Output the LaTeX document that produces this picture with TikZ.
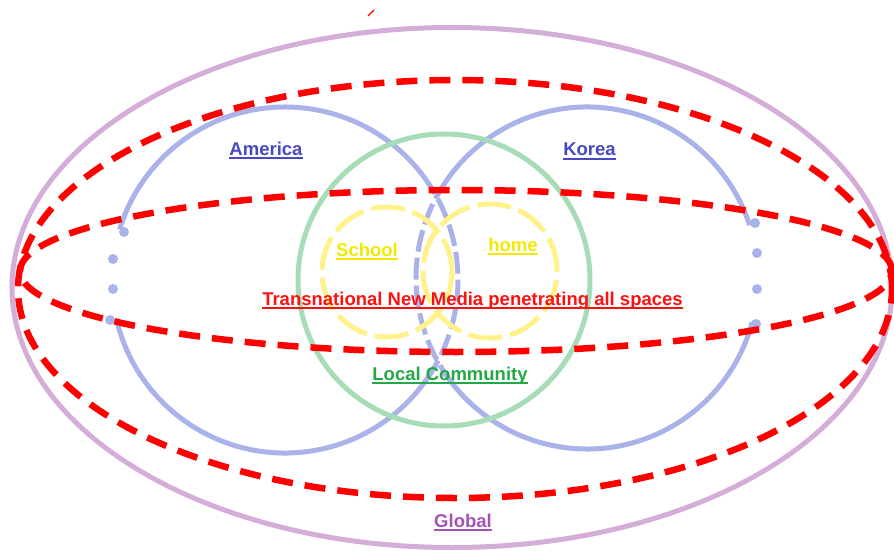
\documentclass[tikz,border=0pt]{standalone}
\usepackage{fontspec}
\setmainfont{Liberation Sans}
\definecolor{purpleL}{HTML}{D4AED9}
\definecolor{blueL}{HTML}{A9B3EA}
\definecolor{greenL}{HTML}{A6DCB6}
\definecolor{yellowL}{HTML}{FFF28A}
\definecolor{redD}{HTML}{FF0000}
\definecolor{blueT}{HTML}{4848C4}
\definecolor{yellowT}{HTML}{F5E800}
\definecolor{greenT}{HTML}{22A844}
\definecolor{purpleT}{HTML}{A452B4}
\definecolor{redT}{HTML}{FF1010}
\newcommand\ulab[4]{%
  \node[lab, text=#3] (#1) at (#2) {#4};
  \draw[#3, line width=1.5pt] ([yshift=-3pt]#1.base west) -- ([yshift=-3pt]#1.base east);}
\begin{document}
\begin{tikzpicture}[x=1pt,y=1pt,
  lab/.style={anchor=base, inner sep=0pt, font=\fontsize{18.5}{22}\selectfont\bfseries},
  soft/.style={line width=5pt},
  bdash/.style={dash pattern=on 22pt off 6pt},
  reddash/.style={draw=redD, line width=6.5pt, dash pattern=on 21pt off 12pt},
  bdot/.style={fill=blueL, draw=none}]
\useasboundingbox (0,0) rectangle (894,550);
% outer global ellipse
\draw[purpleL, soft] (452,262.5) ellipse [x radius=440, y radius=260];
% blue circle America
\draw[blueL, soft] (285,270) ++(-167:173) arc[start angle=-167, end angle=-35, radius=173];
\draw[blueL, soft, bdash] (285,270) ++(-35:173) arc[start angle=-35, end angle=35, radius=173];
\draw[blueL, soft] (285,270) ++(35:173) arc[start angle=35, end angle=163, radius=173];
\foreach \p in {(124,318),(113,291),(113,261),(110,230)} \fill[bdot] \p circle (5);
% blue circle Korea
\draw[blueL, soft] (587,272) ++(18:171) arc[start angle=18, end angle=145, radius=171];
\draw[blueL, soft, bdash] (587,272) ++(145:171) arc[start angle=145, end angle=215, radius=171];
\draw[blueL, soft] (587,272) ++(215:171) arc[start angle=215, end angle=345, radius=171];
\foreach \p in {(755,327),(757,297),(757,261),(756,226)} \fill[bdot] \p circle (5);
% green circle
\draw[greenL, soft] (444,270) circle (146);
% yellow circles
\draw[yellowL, soft, dash pattern=on 34pt off 8pt] (387,278) circle (65);
\draw[yellowL, soft, dash pattern=on 34pt off 8pt] (490,279) circle (67);
% red dashed ellipses
\draw[reddash] (455,261) ellipse [x radius=437, y radius=209];
\draw[reddash] (456,279) ellipse [x radius=436, y radius=81];
% small red tick
\draw[redD, line width=1.2pt] (368,534) -- (374,540);
% labels
\ulab{america}{266,395}{blueT}{America}
\ulab{korea}{589.5,394}{blueT}{Korea}
\ulab{school}{367,294}{yellowT}{School}
\ulab{home}{513,299}{yellowT}{home}
\ulab{media}{472.5,245}{redT}{Transnational New Media penetrating all spaces}
\ulab{local}{450,170}{greenT}{Local Community}
\ulab{global}{463,23}{purpleT}{Global}
\end{tikzpicture}
\end{document}
